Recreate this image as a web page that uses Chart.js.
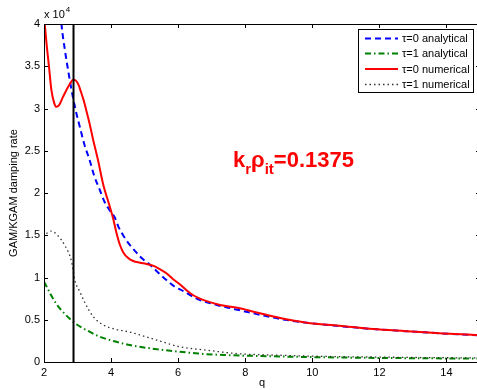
<!DOCTYPE html>
<html>
<head>
<meta charset="utf-8">
<script src="https://cdn.jsdelivr.net/npm/chart.js@4.4.1/dist/chart.umd.min.js"></script>
<style>
  html, body { margin: 0; padding: 0; background: #fff; overflow: hidden; }
  #wrap { position: absolute; left: 0; top: 0; width: 482px; height: 390px; }
</style>
</head>
<body>
<div id="wrap"><canvas id="damping" width="482" height="390"></canvas></div>
<script>
// values in units of 1e4
const qTau0Ana = [2.4, 2.52, 2.62, 2.72, 2.82, 2.95, 3.07, 3.2, 3.36, 3.5, 3.66, 3.8, 3.95, 4.11, 4.22, 4.36, 4.51, 4.7, 4.86, 5.0, 5.16, 5.4, 5.65, 5.9, 6.15, 6.55, 7.15, 7.64, 8.2, 9.04, 9.83, 10.8, 11.82, 12.8, 13.8, 15];
const vTau0Ana = [4.6, 4.0, 3.7, 3.45, 3.22, 2.97, 2.78, 2.58, 2.39, 2.2, 2.04, 1.9, 1.8, 1.71, 1.6, 1.5, 1.41, 1.32, 1.25, 1.2, 1.15, 1.06, 0.97, 0.89, 0.84, 0.75, 0.675, 0.63, 0.58, 0.51, 0.465, 0.425, 0.39, 0.365, 0.34, 0.315];

const qTau1Ana = [2.0, 2.2, 2.4, 2.62, 2.92, 3.3, 3.66, 4.1, 4.56, 5.2, 5.85, 6.6, 7.35, 8.5, 9.98, 11.5, 13, 15];
const vTau1Ana = [0.95, 0.8, 0.67, 0.57, 0.46, 0.37, 0.3, 0.245, 0.2, 0.16, 0.13, 0.1, 0.083, 0.07, 0.058, 0.05, 0.045, 0.04];

const qTau0Num = [2.0, 2.08, 2.15, 2.22, 2.3, 2.37, 2.45, 2.57, 2.67, 2.77, 2.87, 2.95, 3.03, 3.1, 3.18, 3.26, 3.36, 3.46, 3.61, 3.76, 3.96, 4.06, 4.16, 4.26, 4.36, 4.51, 4.66, 4.86, 5.05, 5.25, 5.45, 5.65, 5.85, 6.05, 6.25, 6.45, 6.65, 6.85, 7.25, 7.84, 8.4, 9.04, 9.83, 10.8, 11.82, 12.8, 13.8, 14.86, 15];
const vTau0Num = [4.1, 3.75, 3.49, 3.22, 3.07, 3.02, 3.04, 3.14, 3.22, 3.29, 3.34, 3.33, 3.28, 3.2, 3.1, 2.98, 2.82, 2.64, 2.39, 2.11, 1.84, 1.7, 1.53, 1.39, 1.3, 1.23, 1.195, 1.175, 1.16, 1.14, 1.1, 1.05, 0.98, 0.92, 0.85, 0.79, 0.75, 0.72, 0.675, 0.635, 0.58, 0.52, 0.465, 0.43, 0.39, 0.365, 0.34, 0.32, 0.315];

const qTau1Num = [2.07, 2.22, 2.4, 2.62, 2.82, 2.92, 3.07, 3.21, 3.46, 3.81, 4.1, 4.36, 4.6, 4.86, 5.36, 6.05, 6.85, 7.74, 9.04, 10.5, 12, 13.5, 15];
const vTau1Num = [1.52, 1.55, 1.5, 1.38, 1.19, 0.97, 0.83, 0.71, 0.54, 0.43, 0.39, 0.37, 0.35, 0.32, 0.26, 0.18, 0.14, 0.1, 0.08, 0.065, 0.058, 0.052, 0.048];

const qMarker = 2.88;
const markerSpan = [0, 4];

const xTicks = [2, 4, 6, 8, 10, 12, 14];
const yTicks = [0, 0.5, 1, 1.5, 2, 2.5, 3, 3.5, 4];

const seriesLabels = ['τ=0 analytical', 'τ=1 analytical', 'τ=0 numerical', 'τ=1 numerical'];

const pts = (qs, vs) => qs.map((q, i) => ({ x: q, y: vs[i] }));
const FONT = '"Liberation Sans", Arial, Helvetica, sans-serif';

const legendStyles = [
    { color: '#0000ff', width: 2, dash: [6, 4] },
    { color: '#008000', width: 2, dash: [6, 3, 1.5, 3] },
    { color: '#ff0000', width: 2, dash: [] },
    { color: '#333333', width: 1.3, dash: [1.5, 3] },
];

const decorations = {
    id: 'decorations',
    afterDraw(chart) {
        const { ctx, chartArea: a, scales } = chart;
        const xs = scales.x, ys = scales.y;
        ctx.save();
        ctx.strokeStyle = '#000';
        ctx.lineWidth = 1;
        ctx.setLineDash([]);
        // frame
        ctx.strokeRect(Math.round(a.left) + 0.5, Math.round(a.top) + 0.5,
            Math.round(a.right - a.left), Math.round(a.bottom - a.top));
        // inward ticks
        ctx.beginPath();
        xTicks.forEach(v => {
            const px = Math.round(xs.getPixelForValue(v)) + 0.5;
            ctx.moveTo(px, a.bottom); ctx.lineTo(px, a.bottom - 4);
            ctx.moveTo(px, a.top); ctx.lineTo(px, a.top + 4);
        });
        yTicks.forEach(v => {
            const py = Math.round(ys.getPixelForValue(v)) + 0.5;
            ctx.moveTo(a.left, py); ctx.lineTo(a.left + 4, py);
            ctx.moveTo(a.right, py); ctx.lineTo(a.right - 4, py);
        });
        ctx.stroke();

        // exponent label
        ctx.fillStyle = '#000';
        ctx.textBaseline = 'alphabetic';
        ctx.textAlign = 'left';
        ctx.font = '11px ' + FONT;
        ctx.fillText('x 10', 44, 18);
        const w = ctx.measureText('x 10').width;
        ctx.font = '8px ' + FONT;
        ctx.fillText('4', 44 + w + 1, 12);

        // axis titles
        ctx.font = '11px ' + FONT;
        ctx.textAlign = 'center';
        ctx.textBaseline = 'middle';
        ctx.fillText('q', (a.left + a.right) / 2, 383);
        ctx.save();
        ctx.translate(14, (a.top + a.bottom) / 2);
        ctx.rotate(-Math.PI / 2);
        ctx.fillText('GAM/KGAM damping rate', 0, 0);
        ctx.restore();

        // annotation
        ctx.fillStyle = '#ff0000';
        ctx.textAlign = 'left';
        ctx.textBaseline = 'alphabetic';
        const big = 'bold 22px ' + FONT, small = 'bold 15px ' + FONT;
        let x = 233;
        const base = 167;
        const parts = [['k', big, 0], ['r', small, 7], ['ρ', big, 0], ['it', small, 7], ['=0.1375', big, 0]];
        parts.forEach(([t, f, dy]) => {
            ctx.font = f;
            ctx.fillText(t, x, base + dy);
            x += ctx.measureText(t).width;
        });

        // legend
        const box = { l: 358.5, t: 29.5, r: 473.5, b: 92.5 };
        ctx.fillStyle = '#fff';
        ctx.fillRect(box.l, box.t, box.r - box.l, box.b - box.t);
        ctx.strokeStyle = '#000';
        ctx.lineWidth = 1;
        ctx.strokeRect(box.l, box.t, box.r - box.l, box.b - box.t);
        const rows = [38.5, 53.5, 69, 84.5];
        ctx.font = '11px ' + FONT;
        ctx.textBaseline = 'middle';
        seriesLabels.forEach((lab, i) => {
            const s = legendStyles[i];
            ctx.strokeStyle = s.color;
            ctx.lineWidth = s.width;
            ctx.setLineDash(s.dash);
            ctx.beginPath();
            ctx.moveTo(365, rows[i]);
            ctx.lineTo(398, rows[i]);
            ctx.stroke();
            ctx.setLineDash([]);
            ctx.fillStyle = '#000';
            ctx.fillText(lab, 402, rows[i] + 0.5);
        });
        ctx.restore();
    }
};

const ctx = document.getElementById('damping');
new Chart(ctx, {
    type: 'line',
    data: {
        datasets: [
            {
                label: seriesLabels[0],
                data: pts(qTau0Ana, vTau0Ana),
                borderColor: legendStyles[0].color,
                borderWidth: 2,
                borderDash: legendStyles[0].dash,
                order: 3,
            },
            {
                label: seriesLabels[1],
                data: pts(qTau1Ana, vTau1Ana),
                borderColor: legendStyles[1].color,
                borderWidth: 2,
                borderDash: legendStyles[1].dash,
                order: 4,
            },
            {
                label: seriesLabels[2],
                data: pts(qTau0Num, vTau0Num),
                borderColor: legendStyles[2].color,
                borderWidth: 2,
                order: 2,
            },
            {
                label: seriesLabels[3],
                data: pts(qTau1Num, vTau1Num),
                borderColor: legendStyles[3].color,
                borderWidth: legendStyles[3].width,
                borderDash: legendStyles[3].dash,
                order: 1,
            },
            {
                label: 'marker',
                data: markerSpan.map(v => ({ x: qMarker, y: v })),
                borderColor: '#000',
                borderWidth: 2,
                cubicInterpolationMode: 'default',
                tension: 0,
                order: 0,
            },
        ],
    },
    options: {
        responsive: false,
        animation: false,
        parsing: false,
        datasets: {
            line: {
                pointRadius: 0,
                fill: false,
                cubicInterpolationMode: 'monotone',
            },
        },
        layout: { padding: { top: 24, right: 2, left: 0, bottom: 0 } },
        plugins: {
            legend: { display: false },
            tooltip: { enabled: false },
        },
        scales: {
            x: {
                type: 'linear',
                min: 2,
                max: 15,
                afterBuildTicks: s => { s.ticks = xTicks.map(v => ({ value: v })); },
                afterFit: s => { s.height = 28; },
                grid: { display: false, drawTicks: false },
                border: { display: false },
                ticks: {
                    padding: 4,
                    color: '#000',
                    font: { size: 11, family: FONT },
                    maxRotation: 0,
                },
            },
            y: {
                type: 'linear',
                min: 0,
                max: 4,
                afterBuildTicks: s => { s.ticks = yTicks.map(v => ({ value: v })); },
                afterFit: s => { s.width = 44; },
                grid: { display: false, drawTicks: false },
                border: { display: false },
                ticks: {
                    padding: 4,
                    color: '#000',
                    font: { size: 11, family: FONT },
                    callback: v => String(v),
                },
            },
        },
    },
    plugins: [decorations],
});
</script>
</body>
</html>
